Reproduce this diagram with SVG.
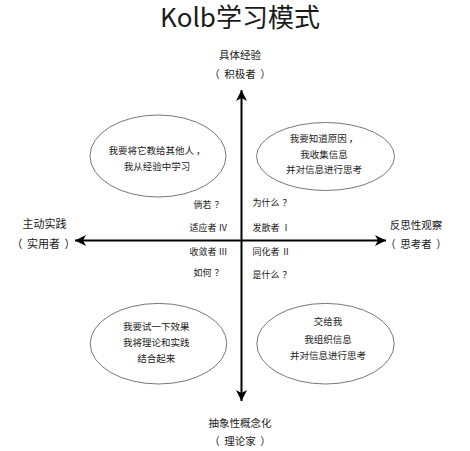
<svg xmlns="http://www.w3.org/2000/svg" width="470" height="451" viewBox="0 0 470 451">
<style>
text{font-family:"Noto Sans CJK SC","Noto Sans",sans-serif;fill:#1a1a1a}
.title{font-size:26px;text-anchor:middle}
.ax{font-size:10.5px;text-anchor:middle}
.sm{font-size:9px}
.mid{text-anchor:middle}
.et{font-size:9.5px;text-anchor:middle}
ellipse{fill:none;stroke:#555;stroke-width:0.8}
.axis{stroke:#000;stroke-width:2;fill:none}
</style>
<defs>
<marker id="ah" viewBox="-12 -6 13 12" refX="0" refY="0" markerWidth="13" markerHeight="12" markerUnits="userSpaceOnUse" orient="auto">
<path d="M0,0 L-11,-5.5 L-8,0 L-11,5.5 Z" fill="#000"/>
</marker>
</defs>
<rect width="470" height="451" fill="#fff"/>
<g id="title"><text class="title" x="240" y="27">Kolb学习模式</text></g>
<g id="connectors">
<line class="axis" x1="241.5" y1="240.5" x2="241.5" y2="90" marker-end="url(#ah)"/>
<line class="axis" x1="241.5" y1="240.5" x2="241.5" y2="401" marker-end="url(#ah)"/>
<line class="axis" x1="241.5" y1="240.5" x2="75" y2="240.5" marker-end="url(#ah)"/>
<line class="axis" x1="241.5" y1="240.5" x2="386" y2="240.5" marker-end="url(#ah)"/>
</g>
<g id="top-label"><text class="ax" x="240" y="59">具体经验</text><text class="ax" x="240" y="78">（<tspan dx="4.5">积极者</tspan><tspan dx="4.5">）</tspan></text></g>
<g id="left-label"><text class="ax" x="44.5" y="228.3" style="font-size:11px">主动实践</text><text class="ax" x="43.5" y="247.5" style="font-size:11px">（<tspan dx="4.5">实用者</tspan><tspan dx="4.5">）</tspan></text></g>
<g id="right-label"><text class="ax" x="416" y="229">反思性观察</text><text class="ax" x="416" y="248.3">（<tspan dx="4.5">思考者</tspan><tspan dx="4.5">）</tspan></text></g>
<g id="bottom-label"><text class="ax" x="240" y="426.7">抽象性概念化</text><text class="ax" x="240" y="445">（<tspan dx="4.5">理论家</tspan><tspan dx="4.5">）</tspan></text></g>
<g id="left-tags">
<text class="sm mid" x="208.5" y="207.7">倘若<tspan dx="3">？</tspan></text>
<text class="sm mid" x="208.5" y="230.7">适应者 Ⅳ</text>
<text class="sm mid" x="208.5" y="255">收敛者 Ⅲ</text>
<text class="sm mid" x="208.5" y="276">如何<tspan dx="3">？</tspan></text>
</g>
<g id="right-tags">
<text class="sm" x="252.5" y="206">为什么<tspan dx="3">？</tspan></text>
<text class="sm" x="252.5" y="230.7">发散者 Ⅰ</text>
<text class="sm" x="252.5" y="255">同化者 Ⅱ</text>
<text class="sm" x="252.5" y="277.7">是什么<tspan dx="3">？</tspan></text>
</g>
<g id="node-tl">
<ellipse cx="158" cy="156" rx="68" ry="41"/>
<text class="et" x="157" y="153.6">我要将它教给其他人<tspan dx="2">，</tspan></text>
<text class="et" x="157" y="169.6">我从经验中学习</text>
</g>
<g id="node-tr">
<ellipse cx="325.5" cy="156.5" rx="69" ry="34"/>
<text class="et" x="324" y="142">我要知道原因<tspan dx="2">，</tspan></text>
<text class="et" x="324" y="157.6">我收集信息</text>
<text class="et" x="324" y="173">并对信息进行思考</text>
</g>
<g id="node-bl">
<ellipse cx="158.5" cy="343.7" rx="68.3" ry="40.3"/>
<text class="et" x="156.3" y="329.6">我要试一下效果</text>
<text class="et" x="156.3" y="345.9">我将理论和实践</text>
<text class="et" x="156.3" y="362.3">结合起来</text>
</g>
<g id="node-br">
<ellipse cx="325.5" cy="343.7" rx="68.7" ry="40.3"/>
<text class="et" x="328" y="325.3">交给我</text>
<text class="et" x="328" y="342.6">我组织信息</text>
<text class="et" x="328" y="358.6">并对信息进行思考</text>
</g>
</svg>
